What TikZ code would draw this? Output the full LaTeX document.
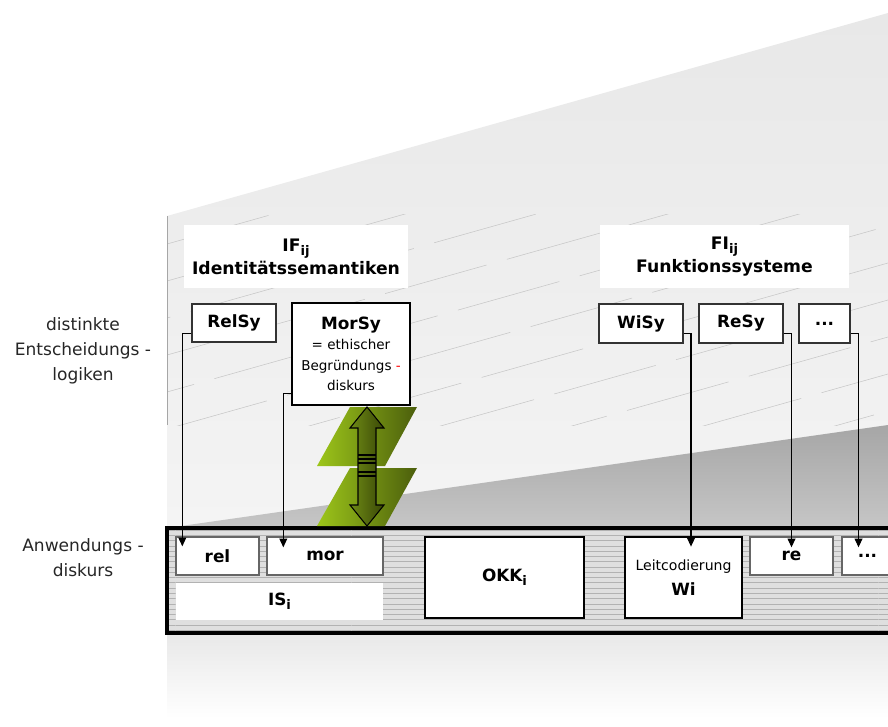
\documentclass[tikz,border=0pt]{standalone}
\usepackage{fontspec}
\setmainfont{DejaVu Sans}
\usetikzlibrary{arrows.meta,patterns}
\definecolor{bgtop}{HTML}{E8E8E8}
\definecolor{bgbot}{HTML}{F4F4F4}
\definecolor{wedgetop}{HTML}{A6A6A6}
\definecolor{wedgebot}{HTML}{C6C6C6}
\definecolor{grnL}{HTML}{9DC61A}
\definecolor{grnR}{HTML}{4B5E0C}
\definecolor{olvL}{HTML}{6E8A16}
\definecolor{olvR}{HTML}{3A4806}
\newcommand{\lowsub}[1]{\raisebox{-0.45ex}{\fontsize{7.5}{8}\selectfont #1}}
\begin{document}
\begin{tikzpicture}[x=0.02cm,y=-0.02cm,
  headbox/.style={fill=white,inner sep=0pt,align=center,font=\fontsize{9.8}{13}\selectfont\bfseries},
  sysbox/.style={draw=black!80,line width=0.6pt,fill=white,inner sep=0pt,font=\fontsize{9.6}{12}\selectfont\bfseries},
  bigbox/.style={draw=black,line width=1.6pt,fill=white,inner sep=0pt,align=center},
  codebox/.style={draw=black!60,line width=0.8pt,fill=white,inner sep=0pt,font=\fontsize{9.6}{12}\selectfont\bfseries},
  link/.style={draw=black,line width=0.6pt,-{Triangle[length=5pt,width=4.5pt]}},
  sidelabel/.style={align=center,text=black!85,font=\fontsize{9.7}{14.2}\selectfont}]
  \useasboundingbox (0,0) rectangle (888,726);
  \begin{scope}
  \clip (0,0) rectangle (888,726);
  \shade[top color=bgtop,bottom color=bgbot] (167,216) -- (888,13) -- (888,528) -- (167,528) -- cycle;
  \shade[top color=wedgetop,bottom color=wedgebot] (167,528) -- (888,425) -- (888,528) -- cycle;
  \shade[top color=gray!18,bottom color=white] (167,633) rectangle (888,718);
  \begin{scope}
    \clip (167,214) -- (888,214) -- (888,425) -- (167,425) -- cycle;
    \foreach \k [evaluate=\k as \ph using {mod(\k*29,72)}] in {0,...,11}
      \draw[gray!45,line width=0.3pt,dash pattern=on 60pt off 12pt,dash phase=\ph pt] (167,244+\k*37) -- (888,41+\k*37);
  \end{scope}
  \draw[gray!70,line width=0.4pt] (167,216) -- (167,425);

  \fill[gray!25] (167,528) rectangle (900,633);
  \fill[pattern=horizontal lines,pattern color=gray!60] (167,528) rectangle (900,633);
  \draw[line width=1.8pt] (167,528) rectangle (900,633);

  \shade[left color=grnL,right color=grnR] (350,407) -- (417,407) -- (385,466) -- (317,466) -- cycle;
  \shade[left color=grnL,right color=grnR] (350,468) -- (417,468) -- (385,526) -- (317,526) -- cycle;
  \shadedraw[left color=olvL,right color=olvR,draw=black,line width=0.6pt] (367,407) -- (384,428) -- (376,428) -- (376,505) -- (384,505) -- (367,526) -- (350,505) -- (358,505) -- (358,428) -- (350,428) -- cycle;
  \foreach \yy in {455,459,463,472,476}
    \draw[line width=0.6pt] (358,\yy) -- (376,\yy);

  \node[sidelabel] (entlab) at (83,351) {distinkte\\Entscheidungs -\\logiken};
  \node[sidelabel] (anwlab) at (83,558) {Anwendungs -\\diskurs};

  \node[headbox,minimum width=4.48cm,minimum height=1.26cm] (ifhd) at (296,256.5) {IF\lowsub{ij}\\Identitätssemantiken};
  \node[headbox,minimum width=4.98cm,minimum height=1.26cm] (fihd) at (724.5,256.5) {FI\lowsub{ij}\\Funktionssysteme};

  \node[sysbox,minimum width=1.68cm,minimum height=0.76cm] (relsy) at (234,323) {RelSy};
  \node[bigbox,minimum width=2.36cm,minimum height=2.04cm,font=\fontsize{7.7}{11.6}\selectfont] (morsy) at (351,354)
    {{\fontsize{9.6}{12}\selectfont\bfseries MorSy}\\= ethischer\\Begründungs \textcolor{red}{-}\\diskurs};
  \node[sysbox,minimum width=1.68cm,minimum height=0.78cm] (wisy) at (641,323.5) {WiSy};
  \node[sysbox,minimum width=1.68cm,minimum height=0.78cm] (resy) at (741,323.5) {ReSy};
  \node[sysbox,minimum width=1.02cm,minimum height=0.78cm] (moresy) at (824.5,323.5) {...};

  \node[codebox,minimum width=1.66cm,minimum height=0.76cm] (rel) at (217.5,556) {rel};
  \node[codebox,minimum width=2.32cm,minimum height=0.76cm] (mor) at (325,556) {mor};
  \node[fill=white,inner sep=0pt,minimum width=4.14cm,minimum height=0.74cm,font=\fontsize{9.6}{12}\selectfont\bfseries] (is) at (279.5,601.5) {IS\lowsub{i}};
  \node[bigbox,minimum width=3.18cm,minimum height=1.62cm,font=\fontsize{9.6}{12}\selectfont\bfseries] (okk) at (504.5,577.5) {OKK\lowsub{i}};
  \node[bigbox,minimum width=2.34cm,minimum height=1.62cm,font=\fontsize{8}{14}\selectfont] (wi) at (683.5,577.5)
    {Leitcodierung\\{\fontsize{9.6}{12}\selectfont\bfseries Wi}};
  \node[codebox,minimum width=1.66cm,minimum height=0.76cm] (re) at (791.5,556) {re};
  \node[codebox,minimum width=1.02cm,minimum height=0.76cm] (moreb) at (867.5,556) {...};

  \coordinate (relin) at ([xshift=0.14cm,yshift=-0.2cm]rel.north west);
  \coordinate (morin) at ([xshift=0.34cm,yshift=-0.22cm]mor.north west);
  \coordinate (wiin) at ([xshift=0.15cm,yshift=-0.22cm]wi.north);
  \coordinate (rein) at ([yshift=-0.22cm]re.north);
  \coordinate (morebin) at ([xshift=-0.18cm,yshift=-0.22cm]moreb.north);
  \draw[link] ([yshift=0.18cm]relsy.south west) -| (relin);
  \draw[link] ([yshift=0.26cm]morsy.south west) -| (morin);
  \draw[link] ([yshift=0.2cm]wisy.south east) -| (wiin);
  \draw[link] ([yshift=0.2cm]resy.south east) -| (rein);
  \draw[link] ([yshift=0.2cm]moresy.south east) -| (morebin);
  \end{scope}
\end{tikzpicture}
\end{document}
